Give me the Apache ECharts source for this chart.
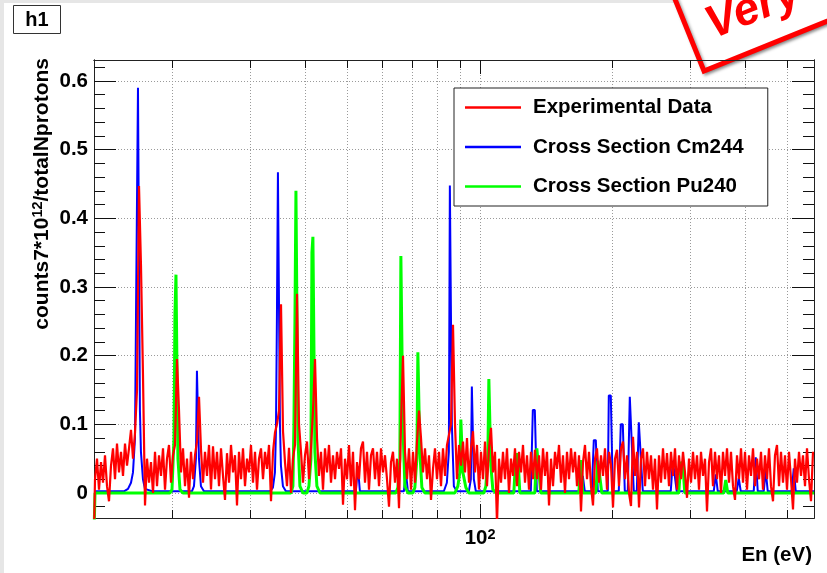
<!DOCTYPE html>
<html>
<head>
<meta charset="utf-8">
<script src="https://cdn.jsdelivr.net/npm/echarts@6/dist/echarts.min.js"></script>
<style>
  html, body { margin: 0; padding: 0; background: #fff; }
  #chart { width: 827px; height: 573px; }
</style>
</head>
<body>
<div id="chart"></div>
<script>
// Energy range of the histogram (eV), log binned
const EN_MIN = 13.25;
const EN_MAX = 574;

// Axis ticks and labels
const xTickValues = [20, 30, 40, 50, 60, 70, 80, 90, 100, 200, 300, 400, 500];
const xDecadeValues = [100];
const yMajorValues = [0, 0.1, 0.2, 0.3, 0.4, 0.5, 0.6];
const yMinorValues = [-0.02, 0.02, 0.04, 0.06, 0.08, 0.12, 0.14, 0.16, 0.18, 0.22, 0.24, 0.26, 0.28,
  0.32, 0.34, 0.36, 0.38, 0.42, 0.44, 0.46, 0.48, 0.52, 0.54, 0.56, 0.58, 0.62];

// Experimental data: counts per log bin (360 bins between EN_MIN and EN_MAX)
const expLeadIn = -0.06;
const expCounts = [
  0.02, 0.05, 0.005, 0.045, 0.015, 0.055, 0.01, -0.012, 0.04, 0.065, 0.02, 0.072, 0.03, 0.06, 0.025, 0.072, 0.04, 0.065, 0.092, 0.05,
  0.088, 0.15, 0.447, 0.33, 0.17, -0.018, 0.05, 0.015, 0.045, 0.0, 0.06, 0.01, 0.055, 0.025, 0.065, 0.005, 0.05, 0.07, 0.015, 0.055,
  0.07, 0.195, 0.12, 0.03, 0.065, 0.01, 0.05, -0.007, 0.06, 0.02, 0.055, 0.075, 0.14, 0.063, 0.015, 0.06, 0.025, 0.07, 0.005, 0.068,
  0.02, 0.06, 0.01, 0.065, 0.025, -0.01, 0.058, 0.015, 0.07, 0.03, 0.055, -0.018, 0.06, 0.02, 0.065, 0.01, 0.05, 0.03, 0.07, 0.015,
  0.06, 0.005, 0.05, 0.065, 0.02, 0.06, 0.035, 0.07, -0.012, 0.06, 0.088, 0.1, 0.12, 0.275, 0.09, 0.045, 0.01, 0.066, 0.0, 0.05,
  0.07, 0.29, 0.1, 0.06, 0.015, 0.055, 0.075, 0.02, 0.065, 0.12, 0.195, 0.08, 0.025, 0.06, 0.005, 0.065, 0.03, 0.07, 0.015, 0.055,
  0.02, 0.06, 0.035, 0.065, -0.017, 0.05, 0.02, 0.07, 0.01, 0.06, -0.025, 0.045, 0.02, 0.065, 0.075, 0.015, 0.06, 0.005, 0.055, 0.065,
  0.02, 0.06, 0.01, 0.065, 0.03, 0.055, 0.02, -0.02, 0.045, 0.06, 0.015, 0.05, -0.022, 0.1, 0.2, 0.06, 0.02, 0.065, 0.005, 0.06,
  0.015, 0.075, 0.12, 0.08, 0.03, 0.065, 0.02, 0.055, -0.01, 0.035, 0.065, 0.02, 0.06, 0.01, 0.065, 0.025, 0.07, 0.085, 0.1, 0.245,
  0.1, 0.02, 0.07, 0.04, 0.075, 0.03, 0.08, 0.015, 0.065, 0.09, 0.03, 0.07, 0.005, 0.06, 0.02, 0.075, 0.01, 0.065, 0.095, 0.03,
  0.06, -0.045, 0.05, 0.015, 0.06, 0.02, 0.065, 0.0, 0.05, 0.025, 0.065, 0.01, 0.06, 0.03, 0.07, 0.015, 0.055, 0.005, 0.06, 0.02,
  0.063, 0.02, 0.055, 0.005, 0.065, 0.025, 0.06, -0.018, 0.05, 0.01, 0.06, 0.035, 0.07, 0.015, 0.055, 0.0, 0.06, 0.02, 0.065, 0.03,
  0.06, 0.01, 0.055, -0.027, 0.045, 0.07, 0.02, 0.06, 0.01, -0.018, 0.05, 0.065, 0.015, 0.055, 0.025, 0.065, 0.005, 0.06, 0.041, -0.021,
  0.05, 0.063, 0.01, 0.065, 0.075, 0.02, 0.055, 0.0, -0.019, 0.082, 0.025, 0.06, -0.021, 0.05, 0.065, 0.01, 0.06, 0.02, 0.055, 0.005,
  0.05, -0.024, 0.055, 0.015, 0.065, 0.02, 0.058, 0.01, 0.06, 0.025, 0.065, 0.005, 0.055, 0.02, 0.06, 0.03, -0.007, 0.05, 0.015, 0.06,
  0.02, 0.055, 0.005, 0.06, 0.025, 0.05, -0.027, 0.045, 0.065, 0.01, 0.06, 0.02, 0.055, 0.0, 0.06, 0.025, 0.065, 0.015, 0.06, 0.01,
  -0.01, 0.055, 0.02, 0.065, 0.015, 0.06, 0.005, 0.055, 0.025, 0.065, 0.01, 0.05, 0.02, 0.06, 0.005, 0.055, 0.02, 0.065, 0.01, -0.012,
  0.055, 0.07, 0.01, 0.06, 0.015, 0.055, 0.005, 0.06, 0.02, -0.024, 0.05, 0.015, 0.06, 0.025, 0.055, 0.01, 0.065, 0.02, -0.012, 0.06
];

// Cross section Cm244: [energy (eV), value]
const cm244 = [
  [13.25, 0.0025], [15.50, 0.0025], [15.83, 0.006], [16.08, 0.015], [16.25, 0.03], [16.42, 0.08], [16.51, 0.26], [16.59, 0.26],
  [16.68, 0.59], [16.77, 0.59], [16.85, 0.12], [16.94, 0.06], [17.12, 0.02], [17.30, 0.006], [17.95, 0.0025],
  [22.12, 0.0025], [22.36, 0.01], [22.59, 0.05], [22.71, 0.178], [22.83, 0.178], [22.95, 0.05], [23.19, 0.01], [23.56, 0.0025],
  [33.28, 0.0025], [33.80, 0.008], [34.16, 0.03], [34.34, 0.09], [34.52, 0.26], [34.70, 0.467], [34.88, 0.467], [35.07, 0.1],
  [35.25, 0.04], [35.62, 0.01], [36.18, 0.0025],
  [52.18, 0.0025], [52.73, 0.039], [53.29, 0.0025],
  [67.09, 0.0025], [67.79, 0.031], [68.51, 0.0025],
  [82.70, 0.0025], [84.01, 0.015], [84.89, 0.06], [85.34, 0.448], [85.79, 0.448], [86.24, 0.1], [87.14, 0.01], [88.52, 0.0025],
  [94.26, 0.0025], [95.25, 0.02], [95.75, 0.155], [96.25, 0.155], [96.76, 0.02], [97.77, 0.0025],
  [130.38, 0.0025], [131.75, 0.121], [133.14, 0.121], [134.54, 0.0025],
  [169.36, 0.0025], [171.15, 0.025], [172.94, 0.0025],
  [179.40, 0.0025], [181.29, 0.077], [183.20, 0.077], [185.12, 0.0025],
  [195.07, 0.0025], [196.09, 0.142], [198.16, 0.142], [200.24, 0.0025],
  [206.62, 0.0025], [208.80, 0.1], [211.00, 0.1], [213.22, 0.0025],
  [216.58, 0.0025], [218.87, 0.14], [221.16, 0.14], [223.50, 0.0025],
  [227.04, 0.0025], [229.44, 0.103], [231.84, 0.103], [234.29, 0.0025],
  [271.23, 0.0025], [274.09, 0.047], [276.96, 0.047], [279.88, 0.0025],
  [339.66, 0.0025], [343.25, 0.027], [346.84, 0.0025],
  [383.07, 0.0025], [387.11, 0.022], [391.20, 0.0025],
  [418.74, 0.0025], [423.12, 0.052], [427.59, 0.0025],
  [441.23, 0.0025], [445.89, 0.033], [450.55, 0.0025],
  [510.85, 0.0025], [516.25, 0.036], [521.65, 0.0025],
  [574, 0.0025]
];

// Cross section Pu240: [energy (eV), value]
const pu240 = [
  [13.25, -0.06], [13.32, 0], [19.72, 0], [19.93, 0.005], [20.14, 0.08], [20.24, 0.26], [20.35, 0.318], [20.46, 0.318],
  [20.56, 0.05], [20.78, 0.005], [21.11, 0],
  [37.14, 0], [37.53, 0.01], [37.73, 0.1], [37.93, 0.25], [38.13, 0.44], [38.33, 0.44], [38.53, 0.08], [38.93, 0.01], [39.55, 0],
  [40.38, 0], [40.81, 0.01], [41.24, 0.05], [41.46, 0.35], [41.67, 0.373], [41.89, 0.373], [42.11, 0.06], [42.55, 0.01], [43.23, 0],
  [64.33, 0], [65.01, 0.008], [65.69, 0.05], [66.04, 0.345], [66.38, 0.345], [66.73, 0.1], [67.44, 0.01], [68.51, 0],
  [70.32, 0], [71.06, 0.008], [71.81, 0.05], [72.18, 0.205], [72.56, 0.205], [72.94, 0.06], [73.71, 0.008], [74.88, 0],
  [87.60, 0], [88.99, 0.01], [89.92, 0.03], [90.39, 0.107], [90.87, 0.107], [91.35, 0.03], [92.79, 0.008], [94.26, 0],
  [101.96, 0], [103.03, 0.01], [104.11, 0.05], [104.66, 0.166], [105.21, 0.166], [105.76, 0.04], [106.87, 0.005], [108.56, 0],
  [119.28, 0], [120.54, 0.056], [121.81, 0.056], [123.09, 0],
  [133.14, 0], [134.54, 0.065], [135.95, 0.065], [137.38, 0],
  [167.60, 0], [169.36, 0.048], [171.15, 0],
  [183.20, 0], [185.12, 0.047], [187.06, 0.047], [189.04, 0],
  [282.84, 0], [285.80, 0.044], [288.81, 0.044], [291.86, 0],
  [357.90, 0], [361.68, 0.019], [365.50, 0],
  [574, 0]
];

const FONT = '"Liberation Sans", Arial, Helvetica, sans-serif';
const FRAME = '#222';
const TICK = '#111';
const GRID = '#9a9a9a';

// bin centres of the log-binned experimental histogram
const expData = [[EN_MIN, expLeadIn]].concat(
  expCounts.map((v, i) => [EN_MIN * Math.pow(EN_MAX / EN_MIN, (i + 0.5) / expCounts.length), v])
);

const chart = echarts.init(document.getElementById('chart'));

// tick-only x axes on the frame, drawn above the histograms
function xTickAxis(position, tickValues, tickLen) {
  return {
    type: 'log', logBase: 10, min: EN_MIN, max: EN_MAX, position: position, z: 3,
    axisLine: { show: true, onZero: false, lineStyle: { color: FRAME, width: 1 } },
    axisTick: { show: true, inside: true, length: tickLen, customValues: tickValues, lineStyle: { color: TICK, width: 1 } },
    axisLabel: { show: false },
    splitLine: { show: false },
    minorTick: { show: false }
  };
}

// labelled x axis: grid lines and the decade label, drawn beneath the histograms
const xLabelAxis = {
  type: 'log', logBase: 10, min: EN_MIN, max: EN_MAX, position: 'bottom', z: 0,
  axisLine: { show: false, onZero: false },
  axisTick: { show: false, customValues: xTickValues },
  axisLabel: {
    show: true, customValues: xDecadeValues, margin: 9,
    formatter: () => '{n|10}{s|2}',
    rich: {
      n: { fontFamily: FONT, fontWeight: 'bold', fontSize: 20.5, color: '#000', lineHeight: 22 },
      s: { fontFamily: FONT, fontWeight: 'bold', fontSize: 14.5, color: '#000', verticalAlign: 'top', lineHeight: 14 }
    }
  },
  splitLine: { show: true, lineStyle: { color: GRID, type: [1, 2], width: 1 } },
  minorTick: { show: false }
};

function yTickAxis(position, tickValues, tickLen) {
  return {
    type: 'value', min: -0.0364, max: 0.6306, position: position, z: 3,
    axisLine: { show: true, onZero: false, lineStyle: { color: FRAME, width: 1 } },
    axisTick: { show: true, inside: true, length: tickLen, customValues: tickValues, lineStyle: { color: TICK, width: 1 } },
    axisLabel: { show: false },
    splitLine: { show: false }
  };
}

const yLabelAxis = {
  type: 'value', min: -0.0364, max: 0.6306, position: 'left', z: 0,
  axisLine: { show: false, onZero: false },
  axisTick: { show: false, customValues: yMajorValues },
  axisLabel: {
    show: true, customValues: yMajorValues, margin: 6,
    fontFamily: FONT, fontWeight: 'bold', fontSize: 20.5, color: '#000',
    formatter: v => (v === 0 ? '0' : v.toFixed(1))
  },
  splitLine: { show: true, lineStyle: { color: GRID, type: [1, 2], width: 1 } }
};

const option = {
  backgroundColor: '#fff',
  animation: false,
  grid: { left: 94, right: 13, top: 60, bottom: 55 },
  // tick axes come first on each side; the series use the labelled axes
  xAxis: [
    xTickAxis('bottom', xTickValues, 8),
    xTickAxis('bottom', xDecadeValues, 14),
    xTickAxis('top', xTickValues, 8),
    xTickAxis('top', xDecadeValues, 14),
    xLabelAxis
  ],
  yAxis: [
    yTickAxis('left', yMajorValues, 22),
    yTickAxis('left', yMinorValues, 11),
    yTickAxis('right', yMajorValues, 22),
    yTickAxis('right', yMinorValues, 11),
    yLabelAxis
  ],
  legend: {
    data: [
      { name: 'Experimental Data', icon: 'rect' },
      { name: 'Cross Section Cm244', icon: 'rect' },
      { name: 'Cross Section Pu240', icon: 'rect' }
    ],
    orient: 'vertical', left: 454, top: 88,
    padding: [9, 24, 9, 11], itemGap: 18.5, itemWidth: 56, itemHeight: 2.5,
    backgroundColor: '#fff', borderColor: FRAME, borderWidth: 1, borderRadius: 0,
    textStyle: { fontFamily: FONT, fontWeight: 'bold', fontSize: 20.5, lineHeight: 20, color: '#000', padding: [0, 0, 0, 7] }
  },
  series: [
    {
      name: 'Cross Section Cm244', type: 'line', data: cm244, xAxisIndex: 4, yAxisIndex: 4,
      symbol: 'none', lineStyle: { color: '#0000ff', width: 2 }, itemStyle: { color: '#0000ff' }
    },
    {
      name: 'Cross Section Pu240', type: 'line', data: pu240, xAxisIndex: 4, yAxisIndex: 4,
      symbol: 'none', lineStyle: { color: '#00ff00', width: 3 }, itemStyle: { color: '#00ff00' }
    },
    {
      name: 'Experimental Data', type: 'line', data: expData, xAxisIndex: 4, yAxisIndex: 4,
      symbol: 'none', lineStyle: { color: '#ff0000', width: 2.2 }, itemStyle: { color: '#ff0000' }
    }
  ],
  graphic: [
    // canvas edge
    { type: 'rect', z: -10, shape: { x: 0, y: 0, width: 827, height: 3 }, style: { fill: '#e6e6e6' } },
    { type: 'rect', z: -10, shape: { x: 0, y: 0, width: 4, height: 573 }, style: { fill: '#e6e6e6' } },
    // histogram title box
    { type: 'rect', z: 10, shape: { x: 13.5, y: 5.5, width: 47, height: 28 }, style: { fill: '#fff', stroke: '#333', lineWidth: 1 } },
    { type: 'text', z: 11, x: 37, y: 20, style: { text: 'h1', font: 'bold 20px ' + FONT, fill: '#000', align: 'center', verticalAlign: 'middle' } },
    // y axis title
    {
      type: 'text', z: 11, x: 42, y: 58, rotation: Math.PI / 2,
      style: {
        text: '{a|counts7*10}{s|12}{a|/totalNprotons}',
        align: 'right', verticalAlign: 'middle', fill: '#000',
        rich: {
          a: { fontFamily: FONT, fontWeight: 'bold', fontSize: 21, lineHeight: 24 },
          s: { fontFamily: FONT, fontWeight: 'bold', fontSize: 14.5, verticalAlign: 'top', lineHeight: 14 }
        }
      }
    },
    // x axis title
    { type: 'text', z: 11, x: 812, y: 555, style: { text: 'En (eV)', font: 'bold 20.5px ' + FONT, fill: '#000', align: 'right', verticalAlign: 'middle' } },
    // stamp
    {
      type: 'group', z: 100, x: 704, y: 71, rotation: 0.384,
      children: [
        {
          type: 'rect', shape: { x: 0, y: -130, width: 400, height: 130 },
          style: { fill: '#fff', stroke: '#ff0000', lineWidth: 5, shadowBlur: 3, shadowColor: 'rgba(0,0,0,0.35)', shadowOffsetX: 2, shadowOffsetY: 2 }
        },
        {
          type: 'text', x: 20, y: -39,
          style: { text: 'Very Preliminary', font: 'italic bold 46px ' + FONT, fill: '#ff0000', align: 'left', verticalAlign: 'middle',
                   shadowBlur: 3, shadowColor: 'rgba(0,0,0,0.35)', shadowOffsetX: 2, shadowOffsetY: 2 }
        }
      ]
    }
  ]
};

chart.setOption(option);
</script>
</body>
</html>
